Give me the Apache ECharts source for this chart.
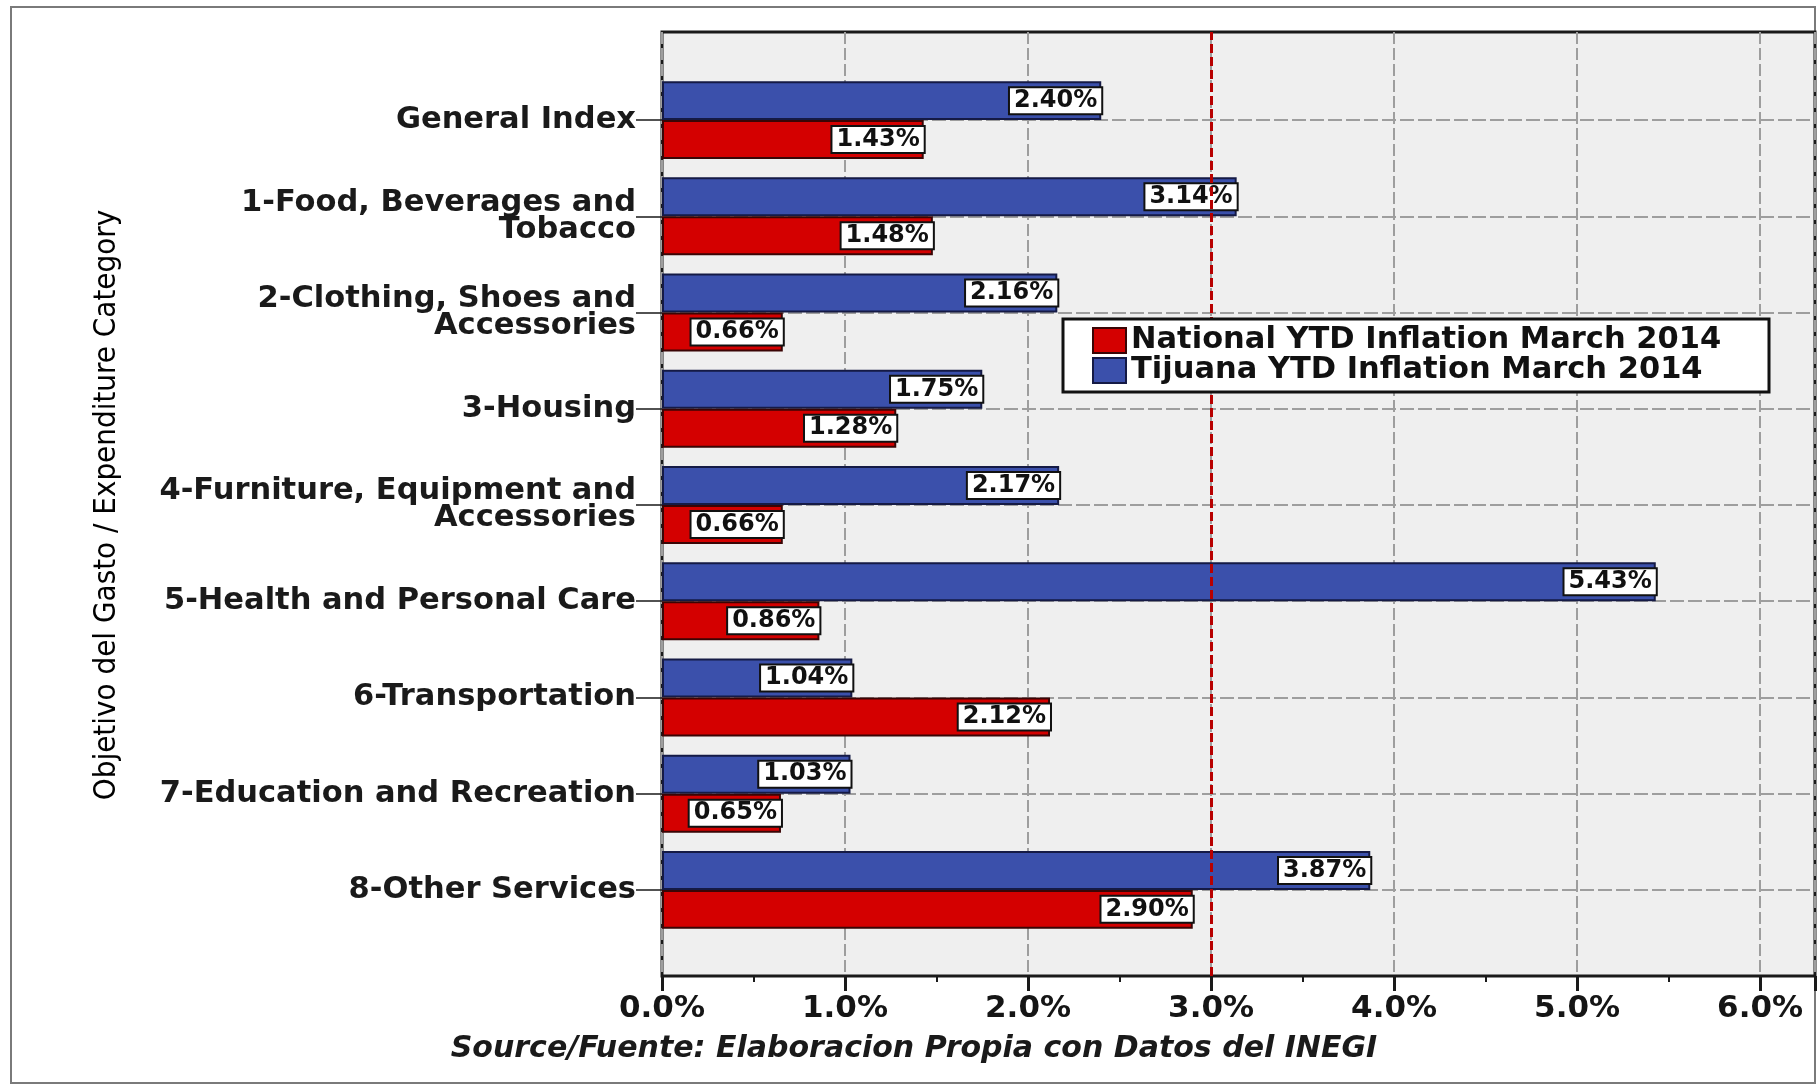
<!DOCTYPE html>
<html><head><meta charset="utf-8">
<script src="https://cdn.jsdelivr.net/npm/echarts@6/dist/echarts.min.js"></script>
<style>html,body{margin:0;padding:0;background:#fff}#c{width:1820px;height:1085px}</style>
</head><body><div id="c"></div>
<script>
const categories = [
  'General Index',
  '1-Food, Beverages and\nTobacco',
  '2-Clothing, Shoes and\nAccessories',
  '3-Housing',
  '4-Furniture, Equipment and\nAccessories',
  '5-Health and Personal Care',
  '6-Transportation',
  '7-Education and Recreation',
  '8-Other Services'
];
const tijuana  = [2.40, 3.14, 2.16, 1.75, 2.17, 5.43, 1.04, 1.03, 3.87];
const national = [1.43, 1.48, 0.66, 1.28, 0.66, 0.86, 2.12, 0.65, 2.90];
const seriesNames = ['National YTD Inflation March 2014', 'Tijuana YTD Inflation March 2014'];
const xMin = 0, xMax = 6.3, xStep = 1;
const referenceLine = 3.0;
const yAxisTitle = 'Objetivo del Gasto / Expenditure Category';
const sourceNote = 'Source/Fuente: Elaboracion Propia con Datos del INEGI';

const BOLD = 'DejaVu Sans';
const chart = echarts.init(document.getElementById('c'), null, {renderer: 'canvas'});

const valueLabel = {
  show: true,
  position: 'insideRight',
  distance: 0,
  formatter: p => p.value.toFixed(2) + '%',
  fontFamily: BOLD, fontWeight: 'bold', fontSize: 24, color: '#111',
  backgroundColor: '#fff', borderColor: '#111', borderWidth: 2,
  padding: [1, 4, 0, 4], lineHeight: 24
};

const option = {
  backgroundColor: '#fff',
  animation: false,
  grid: [
    {left: 662, top: 32, width: 1153, height: 944, show: true,
     backgroundColor: '#efefef', borderColor: '#1a1a1a', borderWidth: 3, z: 0},
    {left: 662, top: 72, width: 1153, height: 866, show: false}
  ],
  xAxis: [
    {gridIndex: 0, type: 'value', min: xMin, max: xMax, interval: xStep,
     axisLine: {show: false},
     axisTick: {show: true, length: 15, lineStyle: {color: '#1a1a1a', width: 3}},
     minorTick: {show: true, splitNumber: 2, length: 6, lineStyle: {color: '#1a1a1a', width: 2}},
     splitLine: {show: true, lineStyle: {color: '#9e9e9e', width: 2, type: [12, 4]}},
     axisLabel: {margin: 17, fontFamily: BOLD, fontWeight: 'bold', fontSize: 31, color: '#151515',
       formatter: v => (Math.abs(v - Math.round(v)) < 1e-9 ? v.toFixed(1) + '%' : '')}},
    {gridIndex: 1, type: 'value', min: xMin, max: xMax, show: false}
  ],
  yAxis: [
    {gridIndex: 0, type: 'value', min: 0, max: 1, show: false},
    {gridIndex: 1, type: 'category', data: categories, inverse: true,
     axisLine: {show: false},
     axisTick: {show: true, alignWithLabel: true, length: 26, lineStyle: {color: '#1a1a1a', width: 1.5}},
     splitLine: {show: true, alignWithLabel: true, lineStyle: {color: '#9e9e9e', width: 2, type: [14, 4]}},
     axisLabel: {margin: 26, fontFamily: BOLD, fontWeight: 'bold', fontSize: 30.5, lineHeight: 27,
       color: '#1a1a1a'},
     name: yAxisTitle, nameLocation: 'middle', nameRotate: 90, nameGap: 540,
     nameTextStyle: {fontFamily: '"Liberation Sans Narrow", "DejaVu Sans Condensed", sans-serif',
       fontSize: 31, color: '#000'}}
  ],
  legend: {
    data: seriesNames, orient: 'vertical', left: 1087, top: 320, padding: 5,
    itemWidth: 33, itemHeight: 25, itemGap: -1, icon: 'rect', z: 20,
    textStyle: {fontFamily: BOLD, fontWeight: 'bold', fontSize: 30.5, lineHeight: 25, color: '#111'}
  },
  graphic: [
    {type: 'rect', shape: {x: 11, y: 7, width: 1804, height: 1076}, silent: true, z: -10,
     style: {fill: 'none', stroke: '#7a7a7a', lineWidth: 2}},
    {type: 'rect', shape: {x: 1063, y: 319, width: 706, height: 73}, silent: true, z: 15,
     style: {fill: '#fff', stroke: '#111', lineWidth: 3}},
    {type: 'text', x: 914, y: 1049, silent: true, z: 10,
     style: {text: sourceNote, align: 'center', verticalAlign: 'middle',
       fontFamily: BOLD, fontStyle: 'italic', fontWeight: 'bold', fontSize: 30, fill: '#1a1a1a'}}
  ],
  series: [
    {name: seriesNames[1], type: 'bar', xAxisIndex: 1, yAxisIndex: 1, data: tijuana,
     barGap: '0%', barCategoryGap: '19%',
     itemStyle: {color: '#3b50ab', borderColor: '#151a45', borderWidth: 2},
     label: valueLabel, z: 3},
    {name: seriesNames[0], type: 'bar', xAxisIndex: 1, yAxisIndex: 1, data: national,
     barGap: '0%', barCategoryGap: '19%',
     itemStyle: {color: '#d40000', borderColor: '#3a0505', borderWidth: 2},
     label: valueLabel, z: 3},
    {type: 'line', xAxisIndex: 0, yAxisIndex: 0, data: [], silent: true, z: 4,
     markLine: {silent: true, symbol: 'none', label: {show: false},
       lineStyle: {color: '#b80000', width: 3, type: [9, 4]},
       data: [{xAxis: referenceLine}]}}
  ]
};
chart.setOption(option);
</script>
</body></html>
